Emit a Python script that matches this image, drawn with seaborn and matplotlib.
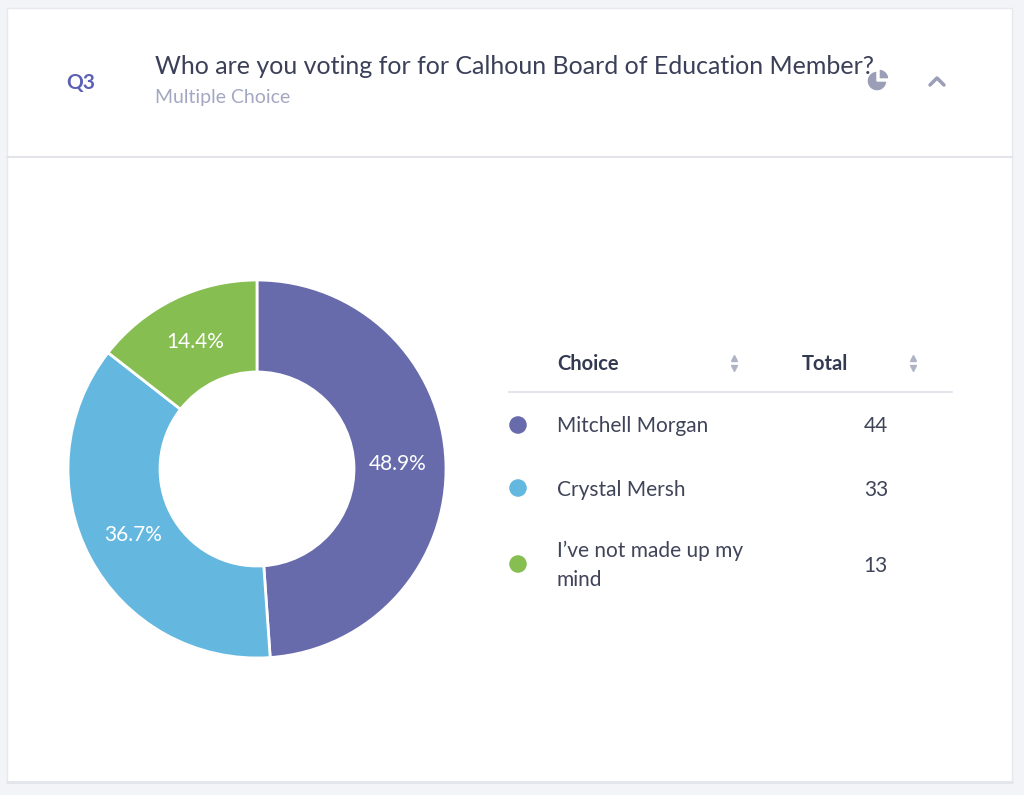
import matplotlib
matplotlib.use("Agg")
import matplotlib.pyplot as plt
import matplotlib.patches as patch
import seaborn as sns
import pandas as pd

# chart data
choices = ["Mitchell Morgan", "Crystal Mersh", "I\u2019ve not made up my\nmind"]
totals = [44, 33, 13]
colors = ["#676BAC", "#64B8E0", "#87BE52"]

question = "Who are you voting for for Calhoun Board of Education Member?"
qtype = "Multiple Choice"
qnum = "Q3"

sns.set_theme(style="white")
plt.rcParams["font.family"] = ["Lato", "DejaVu Sans"]

W, H = 1024, 795
fig = plt.figure(figsize=(W / 100, H / 100), dpi=100)
fig.patch.set_facecolor("#F3F4F7")
ax = fig.add_axes([0, 0, 1, 1])


def Y(p):
    # pixel row from top -> data y
    return H - p


# card
ax.add_patch(patch.Rectangle((7, Y(782)), 1005, 774, facecolor="white",
                             edgecolor="#E6E8EE", linewidth=1, zorder=0))
ax.plot([7, 1012], [Y(157), Y(157)], color="#E3E5EB", lw=1.5, zorder=1)
ax.plot([7, 1012], [Y(782), Y(782)], color="#E3E5EB", lw=2, zorder=1)

# header texts
ax.text(66, Y(83), qnum, fontsize=15, color="#5B60B4", fontweight="bold",
        va="center", ha="left")
ax.text(155, Y(66), question, fontsize=18, color="#3B4058",
        va="center", ha="left")
ax.text(155, Y(98), qtype, fontsize=14, color="#A3A8C2",
        va="center", ha="left")

# small pie icon
icon = "#9A9EB6"
ax.add_patch(patch.Wedge((877, Y(81)), 10, 90, 360, facecolor=icon, zorder=3))
ax.add_patch(patch.Wedge((879, Y(79)), 10, 0, 90, facecolor=icon, zorder=3))
# chevron
ax.plot([930, 937, 944], [Y(85), Y(78), Y(85)], color=icon, lw=2.5,
        solid_capstyle="round", solid_joinstyle="round", zorder=3)

# donut
wedges, texts, autotexts = ax.pie(
    totals, colors=colors, startangle=90, counterclock=False,
    center=(257, Y(469)), radius=189, autopct="%.1f%%", pctdistance=0.745,
    wedgeprops=dict(width=189 - 97, edgecolor="white", linewidth=2),
    textprops=dict(color="white", fontsize=15))

# table
header_c = "#333950"
row_c = "#3F4459"
ax.text(557, Y(363.5), "Choice", fontsize=14.5, fontweight="bold", color=header_c,
        va="center", ha="left")
ax.text(802, Y(363.5), "Total", fontsize=14.5, fontweight="bold", color=header_c,
        va="center", ha="left")
for sx in (734, 913):
    ax.plot([sx], [Y(357.5)], marker="^", markersize=4.5, color="#AEB3C6",
            linestyle="None")
    ax.plot([sx], [Y(367.5)], marker="v", markersize=4.5, color="#AEB3C6",
            linestyle="None")
ax.plot([509, 952], [Y(392), Y(392)], color="#E1E4EA", lw=1.5)

row_y = [425, 488, 564]
df = pd.DataFrame({"choice": choices, "total": totals,
                   "x": [518] * 3, "y": [Y(r) for r in row_y]})
sns.scatterplot(data=df, x="x", y="y", hue="choice", palette=colors, s=160,
                linewidth=0, legend=False, ax=ax, zorder=4)
for r, name, tot in zip(row_y, choices, totals):
    ax.text(557, Y(r + 1.5), name, fontsize=15, color=row_c, va="center",
            ha="left", linespacing=1.6)
    ax.text(888, Y(r + 1.5), str(tot), fontsize=15, color=row_c, va="center",
            ha="right")

ax.set_xlim(0, W)
ax.set_ylim(0, H)
ax.set_aspect("auto")
ax.axis("off")

fig.savefig("out.png", dpi=100, facecolor=fig.get_facecolor())
